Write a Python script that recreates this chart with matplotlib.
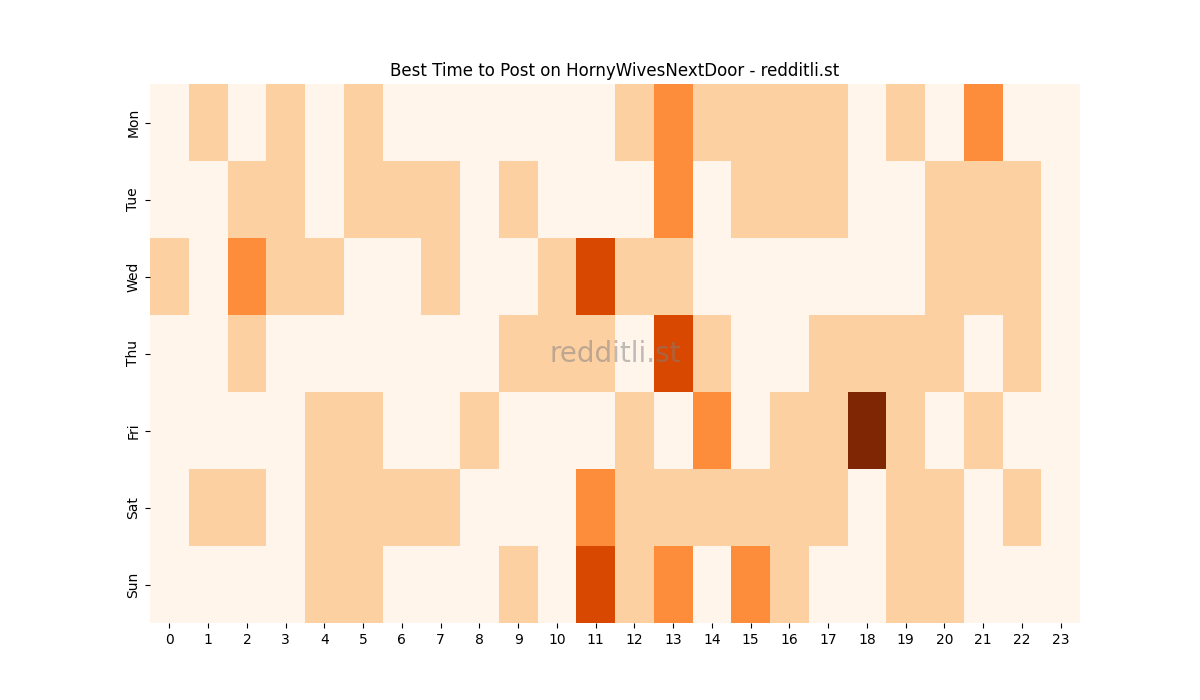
import matplotlib
matplotlib.use("Agg")
import matplotlib.pyplot as plt
import numpy as np
import seaborn as sns

days = ["Mon", "Tue", "Wed", "Thu", "Fri", "Sat", "Sun"]
hours = list(range(24))

mon = [0, 1, 0, 1, 0, 1, 0, 0, 0, 0, 0, 0, 1, 2, 1, 1, 1, 1, 0, 1, 0, 2, 0, 0]
tue = [0, 0, 1, 1, 0, 1, 1, 1, 0, 1, 0, 0, 0, 2, 0, 1, 1, 1, 0, 0, 1, 1, 1, 0]
wed = [1, 0, 2, 1, 1, 0, 0, 1, 0, 0, 1, 3, 1, 1, 0, 0, 0, 0, 0, 0, 1, 1, 1, 0]
thu = [0, 0, 1, 0, 0, 0, 0, 0, 0, 1, 1, 1, 0, 3, 1, 0, 0, 1, 1, 1, 1, 0, 1, 0]
fri = [0, 0, 0, 0, 1, 1, 0, 0, 1, 0, 0, 0, 1, 0, 2, 0, 1, 1, 4, 1, 0, 1, 0, 0]
sat = [0, 1, 1, 0, 1, 1, 1, 1, 0, 0, 0, 2, 1, 1, 1, 1, 1, 1, 0, 1, 1, 0, 1, 0]
sun = [0, 0, 0, 0, 1, 1, 0, 0, 0, 1, 0, 3, 1, 2, 0, 2, 1, 0, 0, 1, 1, 0, 0, 0]

data = np.array([mon, tue, wed, thu, fri, sat, sun])

fig, ax = plt.subplots(figsize=(12, 7), dpi=100)
sns.heatmap(data, cmap="Oranges", cbar=False, ax=ax,
            xticklabels=hours, yticklabels=days)
ax.set_yticklabels(days, rotation=90, va="center")
ax.set_xticklabels(hours, rotation=0)
ax.set_title("Best Time to Post on HornyWivesNextDoor - redditli.st")

ax.text(0.5, 0.5, "redditli.st", transform=ax.transAxes, ha="center",
        va="center", fontsize=20, color="gray", alpha=0.5)

fig.savefig("out.png")
